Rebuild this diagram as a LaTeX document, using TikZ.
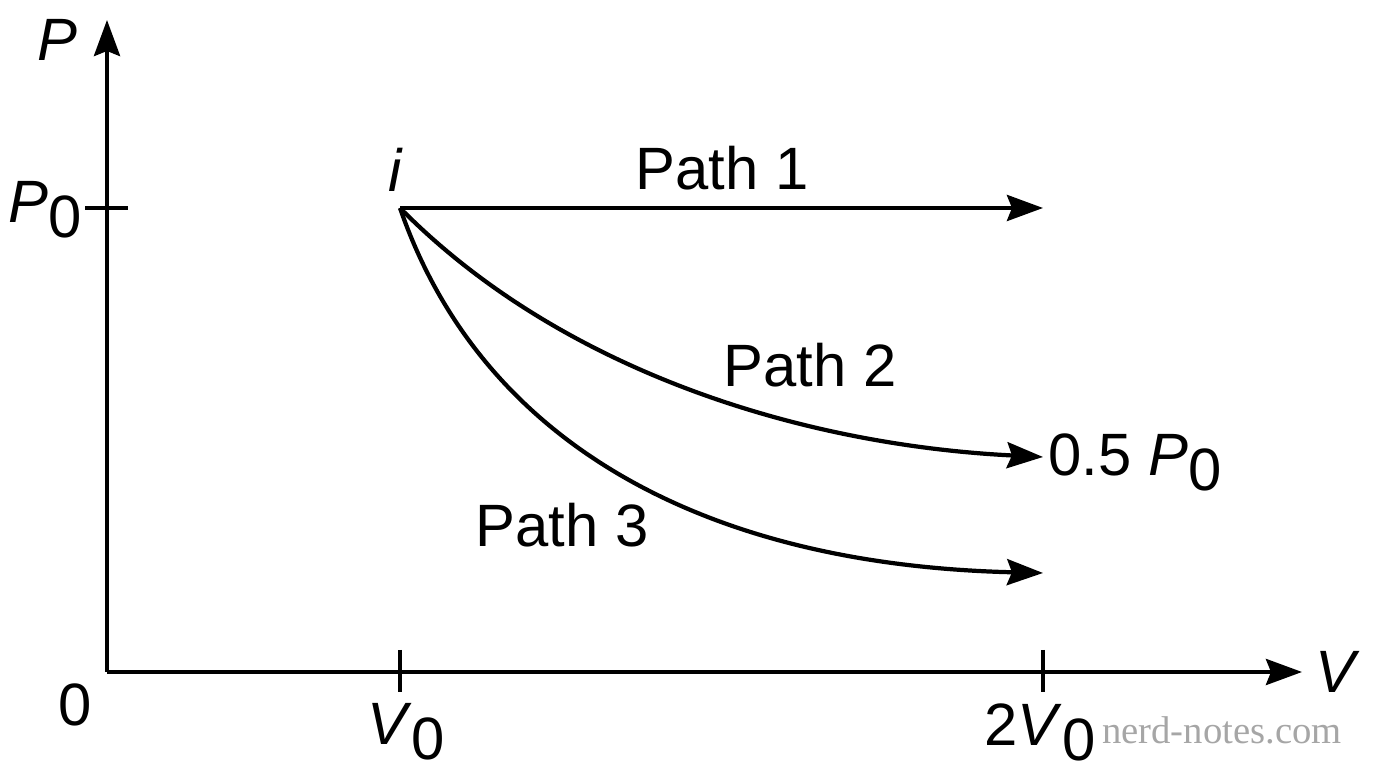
\documentclass[tikz,border=0pt]{standalone}
\usepackage{fontspec}
\setmainfont{Liberation Sans}
\newfontfamily\wmfont{Liberation Serif}
\usetikzlibrary{arrows.meta}
\begin{document}
\begin{tikzpicture}[x=0.01cm,y=-0.01cm,
  ln/.style={line width=1.2pt},
  arr/.style={ln,-{Stealth[length=0.36cm,width=0.26cm,inset=0.05cm]}},
  lbl/.style={font=\fontsize{17}{20}\selectfont,inner sep=0pt}]
\useasboundingbox (0,0) rectangle (1376,768);
\coordinate (O) at (107,672);
\coordinate (Ytop) at (107,20);
\coordinate (Xend) at (1302,672);
\coordinate (i) at (400,208);
\coordinate (e1) at (1043,208);
\coordinate (e2) at (1043,457);
\coordinate (e3) at (1043,573);
\coordinate (tp0a) at (85,208);
\coordinate (tp0b) at (128,208);
\coordinate (tv0a) at (400,650);
\coordinate (tv0b) at (400,692);
\coordinate (tv2a) at (1043,650);
\coordinate (tv2b) at (1043,692);
\draw[arr] (O) -- (Ytop);
\draw[arr] (O) -- (Xend);
\draw[ln] (tp0a) -- (tp0b);
\draw[ln] (tv0a) -- (tv0b);
\draw[ln] (tv2a) -- (tv2b);
\draw[arr] (i) -- (e1);
\draw[arr] (i) .. controls (560,370) and (800,445) .. (e2);
\draw[arr] (i) .. controls (480,440) and (700,565) .. (e3);
\node[lbl] (P) at (57,40) {\itshape P};
\node[lbl] (P0) at (45,210) {\itshape P\/\normalfont\fontsize{17}{20}\selectfont\raisebox{-0.25em}{0}};
\node[lbl] (zero) at (75,705) {0};
\node[lbl] (V0) at (406,732) {\itshape V\/\normalfont\raisebox{-0.25em}{0}};
\node[lbl] (V2) at (1040,732) {2\itshape V\/\normalfont\raisebox{-0.25em}{0}};
\node[lbl] (V) at (1335,672) {\itshape V};
\node[lbl] (il) at (395,170) {\itshape i};
\node[lbl] (p1) at (722,168) {Path 1};
\node[lbl] (p2) at (810,365) {Path 2};
\node[lbl] (p3) at (562,525) {Path 3};
\node[lbl] (half) at (1135,462) {0.5 \itshape P\/\normalfont\raisebox{-0.25em}{0}};
\node[inner sep=0pt,text=black!35,font=\wmfont\fontsize{11}{13}\selectfont] (wm) at (1222,730) {nerd-notes.com};
\end{tikzpicture}
\end{document}
